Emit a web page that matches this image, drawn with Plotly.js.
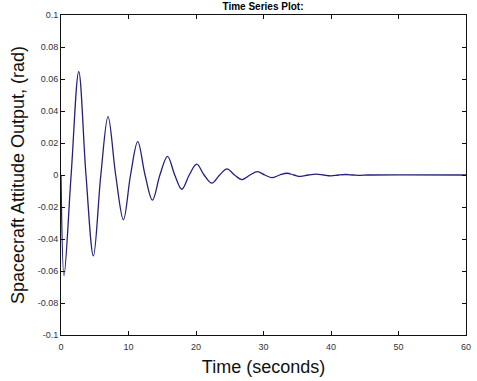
<!DOCTYPE html>
<html>
<head>
<meta charset="utf-8">
<script src="https://cdn.plot.ly/plotly-3.0.1.min.js"></script>
<style>html,body{margin:0;padding:0;background:#fff;}#chart{width:477px;height:381px;}</style>
</head>
<body>
<div id="chart"></div>
<script>
// Time (seconds) and attitude output (rad) at extrema and zero crossings
const timeSeconds = [0, 0.45, 1.5, 2.63, 3.7, 4.8, 5.9, 6.97, 8.1, 9.25, 10.3, 11.37, 12.45, 13.55, 14.65, 15.78, 16.85, 17.9, 19.0, 20.1, 21.2, 22.35, 23.5, 24.6, 25.7, 26.8, 28.0, 29.1, 30.2, 31.25, 32.4, 33.5, 34.5, 35.5, 36.6, 37.8, 38.9, 40.0, 41.1, 42.2, 43.3, 44.4, 45.5, 60];
const attitudeRad = [0, -0.063, 0, 0.0646, 0, -0.0506, 0, 0.0365, 0, -0.028, 0, 0.0208, 0, -0.0157, 0, 0.0117, 0, -0.0089, 0, 0.0068, 0, -0.0051, 0, 0.0038, 0, -0.0029, 0, 0.0021, 0, -0.0017, 0, 0.0011, 0, -0.0009, 0, 0.0006, 0, -0.0005, 0, 0.0003, 0, -0.0002, 0, 0];

const xTickVals = [0, 10, 20, 30, 40, 50, 60];
const xTickText = ["0", "10", "20", "30", "40", "50", "60"];
const yTickVals = [0.1, 0.08, 0.06, 0.04, 0.02, 0, -0.02, -0.04, -0.06, -0.08, -0.1];
const yTickText = ["0.1", "0.08", "0.06", "0.04", "0.02", "0", "-0.02", "-0.04", "-0.06", "-0.08", "-0.1"];

const titleText = "Time Series Plot:";
const xTitle = "Time (seconds)";
const yTitle = "Spacecraft Attitude Output, (rad)";

const FONT = "Arial, 'Liberation Sans', Helvetica, sans-serif";

const trace = {
  x: timeSeconds,
  y: attitudeRad,
  type: "scatter",
  mode: "lines",
  line: {color: "#22227a", width: 1.3, shape: "spline", smoothing: 1},
  hoverinfo: "skip"
};

const axisCommon = {
  showline: true,
  linecolor: "#111",
  linewidth: 1,
  mirror: "ticks",
  ticks: "inside",
  ticklen: 4,
  tickwidth: 1,
  tickcolor: "#111",
  showgrid: false,
  zeroline: false,
  tickfont: {family: FONT, size: 9, color: "#333"},
  tickmode: "array"
};

const layout = {
  width: 477,
  height: 381,
  margin: {l: 61, r: 11, t: 15, b: 46, pad: 0},
  paper_bgcolor: "#fff",
  plot_bgcolor: "#fff",
  showlegend: false,
  font: {family: FONT},
  title: {
    text: "<b>" + titleText + "</b>",
    font: {family: FONT, size: 10, color: "#000"},
    x: 263 / 477, xanchor: "center", xref: "container",
    y: 1 - 6 / 381, yanchor: "middle", yref: "container"
  },
  xaxis: Object.assign({}, axisCommon, {
    range: [0, 60],
    tickvals: xTickVals,
    ticktext: xTickText,
    ticklabelstandoff: 3,
    title: {text: xTitle, font: {family: FONT, size: 18, color: "#111"}, standoff: 9}
  }),
  yaxis: Object.assign({}, axisCommon, {
    range: [-0.1, 0.1],
    tickvals: yTickVals,
    ticktext: yTickText,
    title: {text: yTitle, font: {family: FONT, size: 18, color: "#111"}, standoff: 8}
  })
};

Plotly.newPlot("chart", [trace], layout, {staticPlot: true, displayModeBar: false});
</script>
</body>
</html>
